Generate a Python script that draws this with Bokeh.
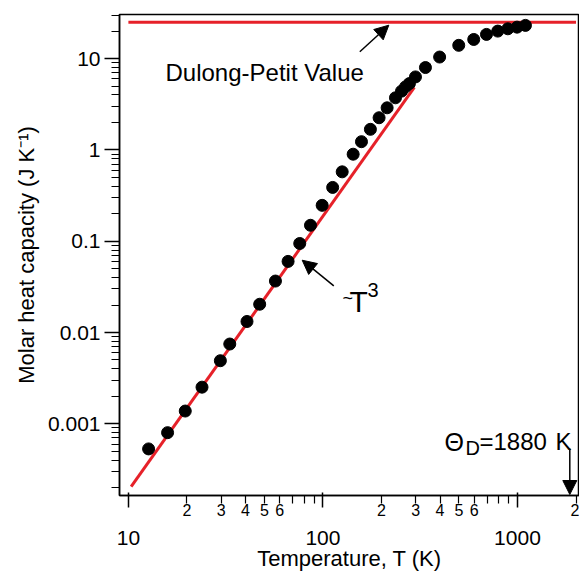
from bokeh.plotting import figure
from bokeh.models import (Range1d, FixedTicker, CustomJSTickFormatter, Label,
                          Arrow, NormalHead, LogAxis)
from bokeh.embed import file_html
from bokeh.resources import INLINE

# ---------------- data ----------------
T_K = [12.7, 15.9, 19.6, 23.9, 29.7, 33.2, 40.7, 47.3, 57.0, 66.2, 76.0, 86.3,
       99.1, 112.2, 125.6, 143.0, 157.8, 175.4, 194.4, 213.8, 236.0, 253.5,
       265.7, 278.4, 299.0, 336.5, 398.0, 499.0, 596.0, 693.0, 792.0, 892.0,
       995.0, 1099.0]
C_molar = [5.31e-4, 8.0e-4, 1.38e-3, 2.52e-3, 4.91e-3, 7.48e-3, 0.0132, 0.0204,
           0.0366, 0.0601, 0.0944, 0.1494, 0.247, 0.388, 0.575, 0.897, 1.23,
           1.68, 2.25, 2.89, 3.72, 4.40, 4.90, 5.33, 6.30, 7.98, 10.4, 13.97,
           16.2, 18.4, 20.0, 21.2, 22.1, 23.1]

dp_T = [10.0, 2000.0]          # Dulong-Petit limit
dp_C = [24.94, 24.94]

t3_T = [10.33, 295.0]          # ~T^3 law
t3_C = [2.05e-4, 4.85]

x_major = [10, 100, 1000]
y_major = [0.001, 0.01, 0.1, 1, 10]
x_minor_labeled = [20, 30, 40, 50, 60, 200, 300, 400, 500, 600, 2000]
x_minor_plain = [70, 80, 90, 700, 800, 900]
mults = [2, 3, 4, 5, 6, 7, 8, 9]

FONT = "Liberation Sans"
RED = "#e62129"

y_minor = [m * 10.0 ** d for d in range(-4, 2) for m in mults if 1.64e-4 <= m * 10.0 ** d <= 30.4]

p = figure(width=579, height=573, x_axis_type="log", y_axis_type="log",
           x_range=Range1d(9.0, 2084), y_range=Range1d(1.64e-4, 30.4),
           output_backend="svg", toolbar_location=None,
           min_border_left=119, min_border_right=0, min_border_top=14,
           min_border_bottom=76)
p.background_fill_color = "white"
p.border_fill_color = "white"
p.outline_line_color = "black"
p.outline_line_width = 1.5
p.grid.visible = False

fmt = CustomJSTickFormatter(code="return tick.toString();")
fmt_first = CustomJSTickFormatter(code="return tick.toString().charAt(0);")

# x axis nearest the frame: short ticks, small digit labels
xa = p.xaxis[0]
xa.ticker = FixedTicker(ticks=x_minor_labeled, minor_ticks=x_minor_plain)
xa.formatter = fmt_first
xa.axis_line_width = 1.5
xa.axis_line_color = "black"
xa.major_tick_out = 8
xa.major_tick_in = 0
xa.minor_tick_out = 8
xa.minor_tick_in = 0
xa.major_tick_line_width = 1.2
xa.minor_tick_line_width = 1.2
xa.major_label_text_font = FONT
xa.major_label_text_font_size = "16px"
xa.major_label_text_color = "black"
xa.major_label_standoff = 0

# second x axis: decade ticks (long) and decade labels, plus the title
xb = LogAxis(ticker=FixedTicker(ticks=x_major, minor_ticks=[]), formatter=fmt)
xb.axis_line_color = None
xb.major_tick_in = 26
xb.major_tick_out = -11
xb.major_tick_line_width = 1.5
xb.minor_tick_out = 0
xb.minor_tick_in = 0
xb.major_label_text_font = FONT
xb.major_label_text_font_size = "21px"
xb.major_label_text_color = "black"
xb.major_label_standoff = 12
xb.axis_label = "Temperature, T (K)"
xb.axis_label_text_font = FONT
xb.axis_label_text_font_size = "22px"
xb.axis_label_text_font_style = "normal"
xb.axis_label_text_color = "black"
xb.axis_label_standoff = -2
p.add_layout(xb, "below")

ya = p.yaxis[0]
ya.ticker = FixedTicker(ticks=y_major, minor_ticks=y_minor)
ya.formatter = fmt
ya.axis_line_width = 1.5
ya.axis_line_color = "black"
ya.major_tick_out = 15
ya.major_tick_in = 0
ya.minor_tick_out = 8
ya.minor_tick_in = 0
ya.major_tick_line_width = 1.5
ya.minor_tick_line_width = 1.2
ya.major_label_text_font = FONT
ya.major_label_text_font_size = "21px"
ya.major_label_text_color = "black"
ya.major_label_standoff = 4
ya.axis_label = "Molar heat capacity (J K\u207b\u00b9)"
ya.axis_label_text_font = FONT
ya.axis_label_text_font_size = "22px"
ya.axis_label_text_font_style = "normal"
ya.axis_label_text_color = "black"
ya.axis_label_standoff = 6

# lines then points
p.line(dp_T, dp_C, line_color=RED, line_width=3)
p.line(t3_T, t3_C, line_color=RED, line_width=3)
p.scatter(T_K, C_molar, size=12, color="black")

def lab(text, x, y, size):
    p.add_layout(Label(x=x, y=y, x_units="screen", y_units="screen", text=text,
                       text_font=FONT, text_font_size=size, text_align="left",
                       text_baseline="alphabetic", text_color="black"))

lab("Dulong-Petit Value", 46, 423, "24px")
lab("~", 223, 198, "18px")
lab("T", 230, 194, "30px")
lab("3", 248, 206, "20px")
lab("\u0398", 325, 54, "25px")
lab("D", 346, 48, "20px")
lab("=1880", 360, 54, "24px")
lab("K", 436, 54, "24px")

def arrow(x0, y0, x1, y1):
    p.add_layout(Arrow(x_start=x0, y_start=y0, x_end=x1, y_end=y1,
                       start_units="screen", end_units="screen",
                       line_color="black", line_width=1.5,
                       end=NormalHead(size=14, fill_color="black", line_color="black")))

arrow(240.3, 443.7, 269.3, 470.3)
arrow(214.3, 209.7, 182.7, 235.3)
arrow(450.3, 47, 450.3, 1)

open("out.html", "w").write(file_html(p, INLINE))
